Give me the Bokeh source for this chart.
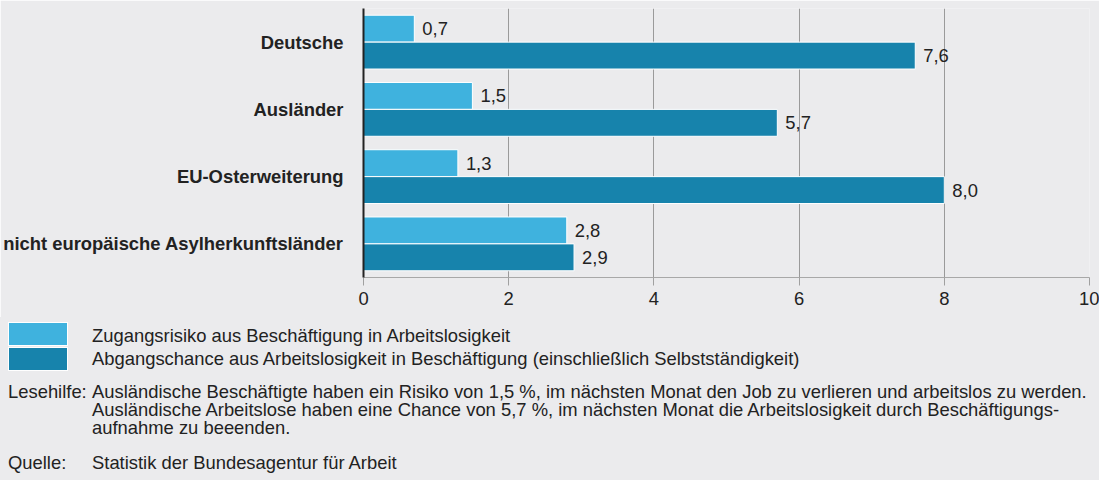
from bokeh.plotting import figure
from bokeh.models import ColumnDataSource, FactorRange, Range1d, FixedTicker, Div
from bokeh.transform import dodge
from bokeh.layouts import column
from bokeh.core.properties import value
from bokeh.embed import file_html
from bokeh.resources import INLINE

# ---- data ----
categories = ["Deutsche", "Ausländer", "EU-Osterweiterung",
              "nicht europäische Asylherkunftsländer"]
zugang = [0.7, 1.5, 1.3, 2.8]
abgang = [7.6, 5.7, 8.0, 2.9]
x_ticks = [0, 2, 4, 6, 8, 10]
series_names = [
    "Zugangsrisiko aus Beschäftigung in Arbeitslosigkeit",
    "Abgangschance aus Arbeitslosigkeit in Beschäftigung (einschließlich Selbstständigkeit)",
]
note_label = "Lesehilfe:"
note_lines = [
    "Ausländische Beschäftigte haben ein Risiko von 1,5 %, im nächsten Monat den Job zu verlieren und arbeitslos zu werden.",
    "Ausländische Arbeitslose haben eine Chance von 5,7 %, im nächsten Monat die Arbeitslosigkeit durch Beschäftigungs-",
    "aufnahme zu beeenden.",
]
source_label = "Quelle:"
source_text = "Statistik der Bundesagentur für Arbeit"

# ---- styles ----
LIGHT = "#3FB2DE"
DARK = "#1783AC"
BG = "#EBEBED"
TXT = "#222222"
FONT = "Liberation Sans"
FS = "18.4px"


def fmt(v):
    return f"{v:.1f}".replace(".", ",")


src = ColumnDataSource(dict(
    cat=categories, zugang=zugang, abgang=abgang,
    zl=[fmt(v) for v in zugang], al=[fmt(v) for v in abgang],
))

W = 1099
H1 = 317
p = figure(width=W, height=H1,
           y_range=FactorRange(factors=categories[::-1], range_padding=0),
           x_range=Range1d(0, 10),
           output_backend="svg", toolbar_location=None,
           min_border_left=363, min_border_right=10,
           min_border_top=8, min_border_bottom=40)
p.background_fill_color = BG
p.border_fill_color = BG
p.outline_line_color = None

yz = dodge("cat", 0.2, range=p.y_range)
ya = dodge("cat", -0.2, range=p.y_range)
p.hbar(y=yz, left=0, right="zugang", height=0.4, source=src,
       fill_color=LIGHT, line_color="white", line_width=1)
p.hbar(y=ya, left=0, right="abgang", height=0.4, source=src,
       fill_color=DARK, line_color="white", line_width=1)

p.text(x="zugang", y=yz, text="zl", source=src,
       x_offset=8, text_baseline="middle", text_align="left",
       text_font=value(FONT), text_font_size=FS, text_color=TXT)
p.text(x="abgang", y=ya, text="al", source=src,
       x_offset=8, text_baseline="middle", text_align="left",
       text_font=value(FONT), text_font_size=FS, text_color=TXT)

# grid
p.ygrid.visible = False
p.xgrid.ticker = FixedTicker(ticks=x_ticks)
p.xgrid.grid_line_color = "#9A9A9A"
p.xgrid.grid_line_width = 1

# x axis
xa = p.xaxis[0]
xa.ticker = FixedTicker(ticks=x_ticks)
xa.axis_line_color = "#A8A8A8"
xa.major_tick_line_color = "#A0A0A0"
xa.major_tick_out = 8
xa.major_tick_in = 0
xa.minor_tick_line_color = None
xa.major_label_standoff = 6
xa.major_label_text_font = FONT
xa.major_label_text_font_size = FS
xa.major_label_text_color = TXT

# y axis
ya_ax = p.yaxis[0]
ya_ax.axis_line_color = "#222222"
ya_ax.axis_line_width = 2
ya_ax.major_tick_line_color = None
ya_ax.minor_tick_line_color = None
ya_ax.major_label_standoff = 14
ya_ax.major_label_text_font = FONT
ya_ax.major_label_text_font_size = FS
ya_ax.major_label_text_font_style = "bold"
ya_ax.major_label_text_color = TXT

# ---- legend + notes below the chart ----
H2 = 480 - H1


def txt(left, top, s):
    return (f'<div style="position:absolute;left:{left}px;top:{top}px;'
            f'white-space:pre;line-height:18px;">{s}</div>')


def box(top, color):
    return (f'<div style="position:absolute;left:8px;top:{top}px;width:60px;'
            f'height:24px;box-sizing:border-box;border:1px solid #fff;'
            f'background:{color};"></div>')


parts = [box(5, LIGHT), box(30, DARK),
         txt(92, 9.6, series_names[0]), txt(92, 32.6, series_names[1]),
         txt(8, 65.6, note_label),
         txt(92, 65.6, "\n".join(note_lines)),
         txt(8, 136.6, source_label), txt(92, 136.6, source_text)]

html = (f'<div style="position:relative;width:{W}px;height:{H2}px;'
        f'overflow:hidden;background:{BG};color:{TXT};'
        f'font-family:\'{FONT}\';font-size:{FS};">' + "".join(parts) + '</div>')

notes = Div(text=html, width=W, height=H2, margin=0)

layout = column(p, notes, spacing=0)

open("out.html", "w").write(file_html(layout, INLINE))
